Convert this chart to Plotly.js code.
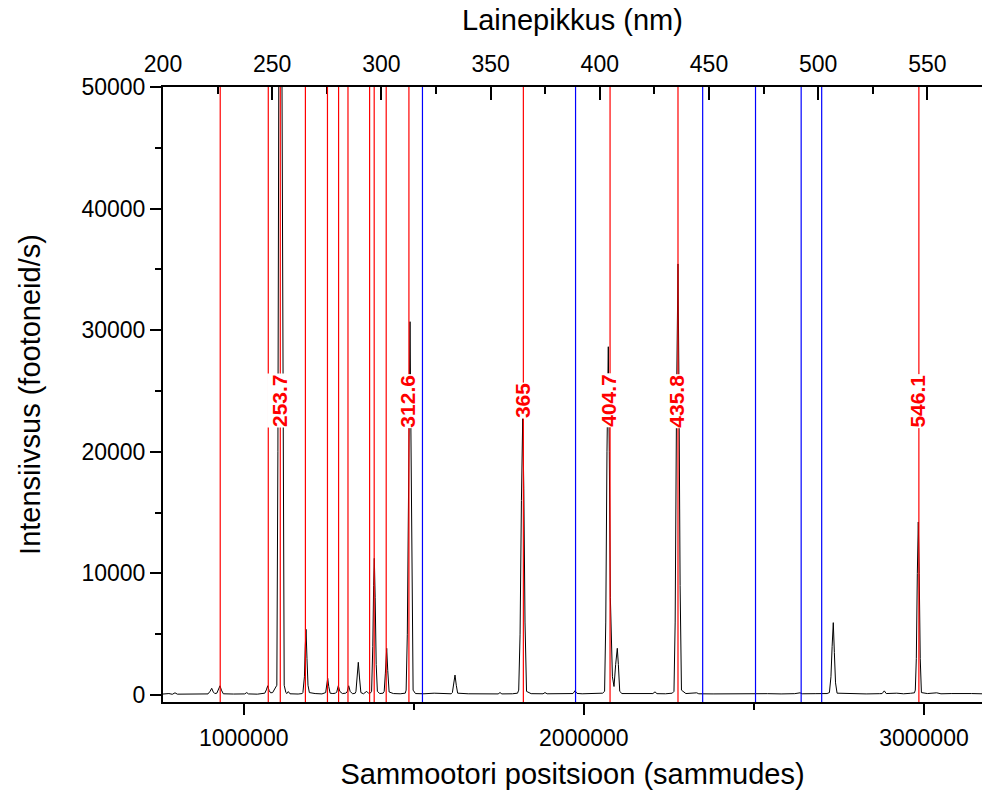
<!DOCTYPE html>
<html>
<head>
<meta charset="utf-8">
<script src="https://cdn.plot.ly/plotly-3.0.1.min.js"></script>
<style>html,body{margin:0;padding:0;background:#fff;}#chart{width:982px;height:791px;}</style>
</head>
<body>
<div id="chart"></div>
<script>
// Spectrum: motor position (steps) vs intensity (photons/s)
const steps = [
  762700, 780000, 790000, 798000, 805000, 840000, 870000,
  895000, 901000, 905900, 910500, 915000,
  921000, 926000, 930300, 934500, 940000,
  970000, 1000000, 1003000, 1008800, 1014000, 1040000, 1058000,
  1062000, 1066500, 1070600, 1074500, 1079000, 1085000,
  1097400, 1100500, 1103800, 1108200, 1112600, 1115900, 1119000, 1124000,
  1127000, 1131100, 1136000, 1160000, 1172000,
  1174000, 1178500, 1181000, 1183200, 1186000, 1189000, 1193000,
  1210000, 1230000, 1238000,
  1241000, 1244500, 1247000, 1250000, 1254000,
  1262000, 1270000, 1273500, 1278100, 1282500, 1290000, 1300000,
  1304000, 1308700, 1313000, 1320000, 1328000,
  1330000, 1333500, 1336900, 1340500, 1344500,
  1352000, 1361600, 1368000, 1372000,
  1376000, 1379500, 1382000, 1384000, 1386500, 1389500, 1393000,
  1400000, 1410000, 1413000, 1416500, 1420400, 1423500, 1427500,
  1440000, 1460000, 1475000,
  1477500, 1481000, 1484500, 1488900, 1491500, 1494500, 1498000,
  1505000, 1530000, 1560000, 1590000, 1610000,
  1613500, 1617500, 1621200, 1625000, 1629000,
  1660000, 1700000, 1740000, 1748000, 1753500, 1759000, 1790000, 1805000,
  1808500, 1812500, 1816500, 1820300, 1823500, 1827000, 1831500,
  1845000, 1880000, 1885800, 1892000, 1930000, 1960000,
  1968000, 1974000, 1980000, 1995000, 2020000, 2040000, 2055000,
  2061000, 2064500, 2068000, 2071900, 2074800, 2078000, 2084000, 2088700,
  2093500, 2098400, 2101500, 2105500, 2112000,
  2150000, 2180000, 2203000, 2209200, 2215000, 2240000, 2260000,
  2265000, 2268500, 2272500, 2276800, 2279500, 2283000, 2287000,
  2300000, 2331800, 2338000, 2380000, 2420000, 2460000, 2500000,
  2540000, 2580000, 2620000, 2635500, 2642000, 2680000, 2715000,
  2722000, 2726500, 2730000, 2733400, 2736500, 2740000, 2744500,
  2780000, 2830000, 2870000, 2877000, 2883400, 2889000,
  2920000, 2940000, 2960000, 2972000,
  2974500, 2977500, 2980500, 2983300, 2986000, 2989000, 2992500,
  3010000, 3037400, 3050000, 3080000, 3110000, 3140000, 3170600
];
const counts = [
  80, 120, 60, 180, 70, 80, 60,
  90, 300, 550, 250, 120,
  150, 450, 760, 400, 100,
  80, 90, 90, 200, 90, 70, 90,
  150, 420, 760, 380, 180, 200,
  800, 20000, 50000, 110000, 50000, 20000, 800, 200,
  120, 280, 100, 80, 120,
  200, 1500, 4000, 5400, 3000, 800, 200,
  120, 90, 150,
  200, 900, 1370, 700, 150,
  120, 150, 250, 760, 300, 120, 150,
  250, 760, 300, 100, 150,
  300, 1500, 2690, 1400, 200,
  100, 300, 120, 150,
  300, 4000, 9000, 11240, 8000, 2500, 300,
  120, 150, 300, 1800, 3840, 2000, 250,
  120, 100, 150,
  400, 5000, 20000, 30700, 22000, 8000, 400,
  120, 100, 150, 90, 100,
  200, 900, 1640, 800, 150,
  100, 90, 100, 90, 200, 90, 100, 150,
  400, 5000, 16000, 22800, 17000, 6000, 300,
  110, 100, 200, 100, 90, 110,
  120, 350, 130, 100, 120, 100, 150,
  300, 6000, 20000, 28640, 20000, 8000, 1500, 700,
  2500, 3840, 2500, 300, 120,
  100, 130, 120, 260, 110, 100, 150,
  300, 6000, 24000, 35450, 26000, 9000, 400,
  120, 180, 100, 90, 110, 90, 100,
  110, 90, 110, 180, 100, 110, 120,
  200, 1500, 4000, 5950, 3500, 1000, 150,
  100, 90, 110, 120, 340, 120,
  150, 100, 140, 180,
  400, 3000, 10000, 14230, 10000, 3000, 200,
  120, 180, 100, 120, 90, 120, 100
];

// Reference lines (nm)
const hgLines = [226.2, 248.2, 253.7, 265.2, 275.3, 280.4, 284.7, 294.6, 296.7, 302.2, 312.6, 365.0, 404.7, 435.8, 546.1];
const heLines = [318.8, 388.9, 447.1, 471.3, 492.2, 501.6];
const labelLines = [253.7, 312.6, 365.0, 404.7, 435.8, 546.1];
const labelTexts = ['253.7', '312.6', '365', '404.7', '435.8', '546.1'];
const labelY = 24200;

// Axis ticks
const yTicks = [0, 10000, 20000, 30000, 40000, 50000];
const xTicks = [1000000, 2000000, 3000000];
const xTickText = ['1000000', '2000000', '3000000'];
const x2Ticks = [200, 250, 300, 350, 400, 450, 500, 550];

const FONT = 'Arial, "Liberation Sans", sans-serif';

const shapes = [];
hgLines.forEach(w => shapes.push({type: 'line', xref: 'x2', yref: 'paper', x0: w, x1: w, y0: 0, y1: 1,
  line: {color: 'rgb(255,0,0)', width: 1.2}, layer: 'above'}));
heLines.forEach(w => shapes.push({type: 'line', xref: 'x2', yref: 'paper', x0: w, x1: w, y0: 0, y1: 1,
  line: {color: 'rgb(0,0,255)', width: 1.2}, layer: 'above'}));

const annotations = labelLines.map((w, i) => ({
  x: w, y: labelY, xref: 'x2', yref: 'y', text: '<b>' + labelTexts[i] + '</b>',
  showarrow: false, textangle: -90, xanchor: 'center', yanchor: 'middle', xshift: -1,
  bgcolor: '#ffffff', borderpad: 0,
  font: {family: FONT, size: 21, color: 'rgb(255,0,0)'}
}));

const traces = [
  {x: steps, y: counts, type: 'scatter', mode: 'lines', xaxis: 'x', yaxis: 'y',
   line: {color: '#000000', width: 1}, hoverinfo: 'skip'},
  {x: [200, 575], y: [null, null], type: 'scatter', mode: 'lines', xaxis: 'x2', yaxis: 'y',
   hoverinfo: 'skip', showlegend: false}
];

const layout = {
  width: 982, height: 791,
  margin: {l: 163, r: 0, t: 87, b: 89},
  paper_bgcolor: '#ffffff', plot_bgcolor: '#ffffff',
  showlegend: false,
  font: {family: FONT, color: '#000000'},
  xaxis: {
    range: [762700, 3170600], showgrid: false, zeroline: false,
    showline: true, linecolor: '#000', linewidth: 2,
    ticks: 'outside', ticklen: 11, tickwidth: 2, tickcolor: '#000',
    tickvals: xTicks, ticktext: xTickText,
    tickfont: {family: FONT, size: 23}, ticklabelstandoff: 3,
    minor: {dtick: 500000, tick0: 0, ticks: 'outside', ticklen: 6, tickwidth: 2, tickcolor: '#000', showgrid: false},
    title: {text: 'Sammootori positsioon (sammudes)', font: {family: FONT, size: 29}, standoff: 14}
  },
  xaxis2: {
    overlaying: 'x', side: 'top', anchor: 'y',
    range: [200, 575], showgrid: false, zeroline: false,
    showline: true, linecolor: '#000', linewidth: 2,
    ticks: 'inside', ticklen: 13, tickwidth: 2, tickcolor: '#000',
    tickvals: x2Ticks, ticklabelstandoff: 4,
    tickfont: {family: FONT, size: 23},
    minor: {dtick: 25, tick0: 200, ticks: 'inside', ticklen: 7, tickwidth: 2, tickcolor: '#000', showgrid: false},
    title: {text: 'Lainepikkus (nm)', font: {family: FONT, size: 29}, standoff: 12}
  },
  yaxis: {
    range: [-575, 50000], showgrid: false, zeroline: false,
    showline: true, linecolor: '#000', linewidth: 2,
    ticks: 'outside', ticklen: 11, tickwidth: 2, tickcolor: '#000',
    tickvals: yTicks, tickformat: 'd',
    tickfont: {family: FONT, size: 23},
    minor: {dtick: 5000, tick0: 0, ticks: 'outside', ticklen: 6, tickwidth: 2, tickcolor: '#000', showgrid: false},
    title: {text: 'Intensiivsus (footoneid/s)', font: {family: FONT, size: 29}, standoff: 32}
  },
  shapes: shapes,
  annotations: annotations
};

Plotly.newPlot('chart', traces, layout, {displayModeBar: false, staticPlot: true});
</script>
</body>
</html>
